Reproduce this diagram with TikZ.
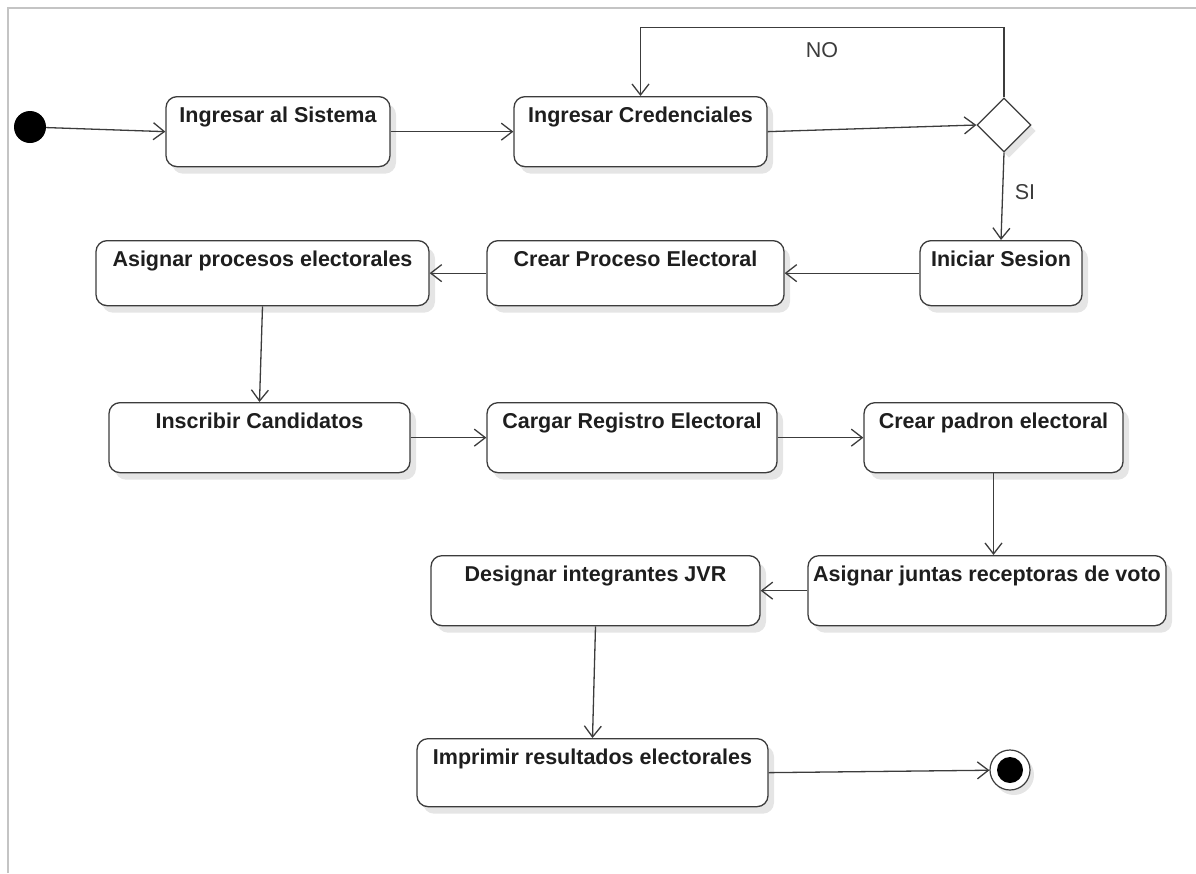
\documentclass[tikz,border=0pt]{standalone}
\usepackage{fontspec}
\setmainfont{Liberation Sans}
\usetikzlibrary{arrows.meta,shapes.geometric,shadows}
\definecolor{linec}{HTML}{3C3C3C}
\definecolor{textc}{HTML}{1E1E1E}
\definecolor{framec}{HTML}{C4C4C4}
\begin{document}
\begin{tikzpicture}[x=1pt,y=-1pt,
  act/.style={draw=linec, line width=1.3pt, rounded corners=11pt, fill=white,
    font=\bfseries\fontsize{21.5}{22}\selectfont, text=textc,
    inner xsep=0pt, inner ysep=0pt, text height=26pt, anchor=north,
    drop shadow={shadow xshift=6pt, shadow yshift=-7pt, opacity=0.10, fill=black}},
  flow/.style={draw=linec, line width=1.3pt,
    -{Straight Barb[length=11pt,width=17pt,line width=1.3pt]}},
  guard/.style={font=\fontsize{21.5}{22}\selectfont, text=linec}]
\useasboundingbox (0,0) rectangle (1196,873);
\draw[framec, line width=1.2pt] (8,873) -- (8,8) -- (1196,8);

% start and decision
\node[circle, fill=black, minimum size=32pt, inner sep=0pt] (ini) at (30,127) {};
\node[diamond, draw=linec, line width=1.3pt, fill=white, aspect=1, inner sep=0pt,
  minimum width=54pt, minimum height=54pt,
  drop shadow={shadow xshift=5pt, shadow yshift=-6pt, opacity=0.10, fill=black}] (dec) at (1004,125) {};

% row 1
\node[act, minimum width=224pt, text depth=44pt] (sis) at (278,96) {Ingresar al Sistema};
\node[act, minimum width=253pt, text depth=44pt] (cred) at (640.5,96) {Ingresar Credenciales};

% row 2
\node[act, minimum width=162pt, text depth=39pt] (ses) at (1001,240) {Iniciar Sesion};
\node[act, minimum width=297pt, text depth=39pt] (cpe) at (635.5,240) {Crear Proceso Electoral};
\node[act, minimum width=333pt, text depth=39pt] (apr) at (262.5,240) {Asignar procesos electorales};

% row 3
\node[act, minimum width=301pt, text depth=44pt] (ins) at (259.5,402) {Inscribir Candidatos};
\node[act, minimum width=290pt, text depth=44pt] (crg) at (632,402) {Cargar Registro Electoral};
\node[act, minimum width=259pt, text depth=44pt] (pad) at (993.5,402) {Crear padron electoral};

% row 4
\node[act, minimum width=358pt, text depth=44pt] (ajr) at (987,555) {Asignar juntas receptoras de voto};
\node[act, minimum width=329pt, text depth=44pt] (dji) at (595.5,555) {Designar integrantes JVR};

% row 5
\node[act, minimum width=351pt, text depth=42pt] (imp) at (592.5,738) {Imprimir resultados electorales};
\node[circle, draw=linec, line width=1.2pt, fill=white, minimum size=40pt, inner sep=0pt,
  drop shadow={shadow xshift=4pt, shadow yshift=-5pt, opacity=0.10, fill=black}] (fin) at (1010,770) {};
\fill[black] (fin.center) circle (13pt);

% flows
\draw[flow] (ini) -- (sis.west);
\draw[flow] (sis.east) -- (cred.west);
\draw[flow] (cred.east) -- (dec.west);
\draw[flow] (dec.north) -- ++(0,-70) -| (cred.north);
\node[guard] (no) at (822,50) {NO};
\draw[flow] (dec.south) -- (ses.north);
\node[guard] (si) at (1025,192) {SI};
\draw[flow] (ses.west) -- (cpe.east);
\draw[flow] (cpe.west) -- (apr.east);
\draw[flow] (apr.south) -- (ins.north);
\draw[flow] (ins.east) -- (crg.west);
\draw[flow] (crg.east) -- (pad.west);
\draw[flow] (pad.south) -- (pad.south |- ajr.north);
\draw[flow] (ajr.west) -- (dji.east);
\draw[flow] (dji.south) -- (imp.north);
\draw[flow] (imp.east) -- (fin);
\end{tikzpicture}
\end{document}
